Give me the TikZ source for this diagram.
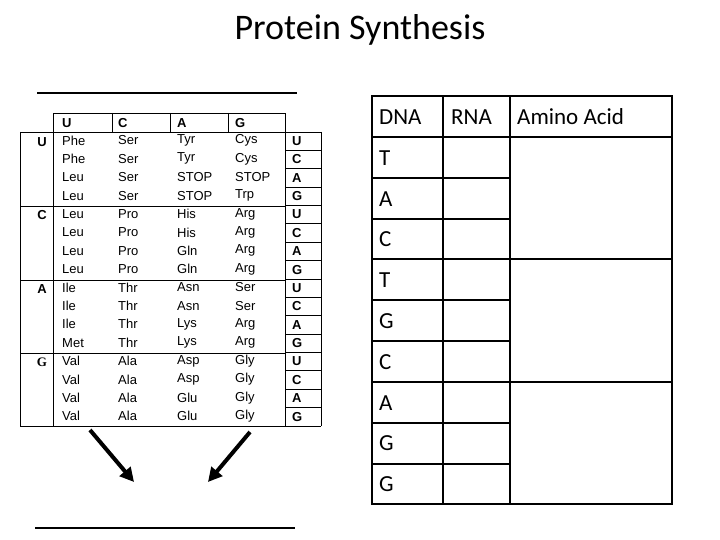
\documentclass[tikz,border=0pt]{standalone}
\usetikzlibrary{arrows.meta}
\usepackage{fontspec}
\setmainfont{Carlito}
\newfontfamily\arial{Liberation Sans}
\newfontfamily\tms{Liberation Serif}
\begin{document}
\begin{tikzpicture}[x=1pt,y=-1pt,
  aa/.style={font=\arial\fontsize{13}{13}\selectfont,anchor=west,inner sep=0pt},
  bl/.style={font=\arial\bfseries\fontsize{13}{13}\selectfont,inner sep=0pt},
  rt/.style={font=\fontsize{23}{23}\selectfont,anchor=west,inner sep=0pt},
  ln/.style={line width=0.8pt},
  bigarrow/.style={line width=4pt,-{Triangle[length=14pt,width=14pt]}}]
\useasboundingbox (0,0) rectangle (720,540);
\node[font=\fontsize{36}{36}\selectfont] (title) at (360,30) {Protein Synthesis};
\draw[line width=1.2pt] (37,93) coordinate(t1) -- (297,93) coordinate(t2);
\draw[line width=1.2pt] (35,528) coordinate(b1) -- (295,528) coordinate(b2);
% left codon table
\draw[ln] (53,113) rectangle (285,132);
\foreach \x in {112,170,228} \draw[ln] (\x,113) -- (\x,132);
\draw[ln] (20,132) -- (285,132) (20,132) -- (20,426) -- (321,426);
\draw[ln] (53,132) -- (53,426) (285,132) -- (285,426);
\foreach \y in {206,280,353} \draw[ln] (20,\y) -- (285,\y);
\draw[ln] (321,132) -- (321,426);
\foreach \i in {0,...,15} \draw[ln] (285,{132+18.375*\i}) -- (321,{132+18.375*\i});
\node[bl,anchor=west] (hU) at (62,123) {U};
\node[bl,anchor=west] (hC) at (118,123) {C};
\node[bl,anchor=west] (hA) at (177,123) {A};
\node[bl,anchor=west] (hG) at (235,123) {G};
\node[bl] (fU) at (42,142) {U};
\node[bl] (fC) at (42,215) {C};
\node[bl] (fA) at (42,289) {A};
\node[font=\tms\bfseries\fontsize{13}{13}\selectfont,inner sep=0pt] (fG) at (42,362) {G};
\foreach \a/\b/\c/\d [count=\i from 0] in {
 Phe/Ser/Tyr/Cys,Phe/Ser/Tyr/Cys,Leu/Ser/STOP/STOP,Leu/Ser/STOP/Trp,
 Leu/Pro/His/Arg,Leu/Pro/His/Arg,Leu/Pro/Gln/Arg,Leu/Pro/Gln/Arg,
 Ile/Thr/Asn/Ser,Ile/Thr/Asn/Ser,Ile/Thr/Lys/Arg,Met/Thr/Lys/Arg,
 Val/Ala/Asp/Gly,Val/Ala/Asp/Gly,Val/Ala/Glu/Gly,Val/Ala/Glu/Gly}{
  \node[aa] (a\i) at (62,{140.5+18.375*\i}) {\a};
  \node[aa] (b\i) at (118,{140.5+18.375*\i}) {\b};
  \node[aa] (c\i) at (177,{140.5+18.375*\i}) {\c};
  \node[aa] (d\i) at (235,{140.5+18.375*\i}) {\d};
}
\foreach \l [count=\i from 0] in {U,C,A,G,U,C,A,G,U,C,A,G,U,C,A,G}{
  \node[bl,anchor=west] (t\i) at (292,{141+18.375*\i}) {\l};
}
% arrows
\coordinate (s1) at (90,430); \coordinate (e1) at (134,482);
\coordinate (s2) at (250,432); \coordinate (e2) at (208,482);
\draw[bigarrow] (s1) -- (e1);
\draw[bigarrow] (s2) -- (e2);
% right table
\draw[line width=1.2pt] (372,96) rectangle (672,504);
\draw[line width=1.2pt] (443,96) -- (443,504) (510,96) -- (510,504);
\draw[line width=1.2pt] (372,137) -- (672,137) (372,259) -- (672,259) (372,382) -- (672,382);
\foreach \y in {178,219,300,341,423,464} \draw[line width=1.2pt] (372,\y) -- (510,\y);
\node[rt] (hd) at (379,117) {DNA};
\node[rt] (hr) at (451,117) {RNA};
\node[rt] (ha) at (517,117) {Amino Acid};
\foreach \l [count=\i from 0] in {T,A,C,T,G,C,A,G,G}{
  \node[rt] (r\i) at (379,{158+40.8*\i}) {\l};
}
\end{tikzpicture}
\end{document}
